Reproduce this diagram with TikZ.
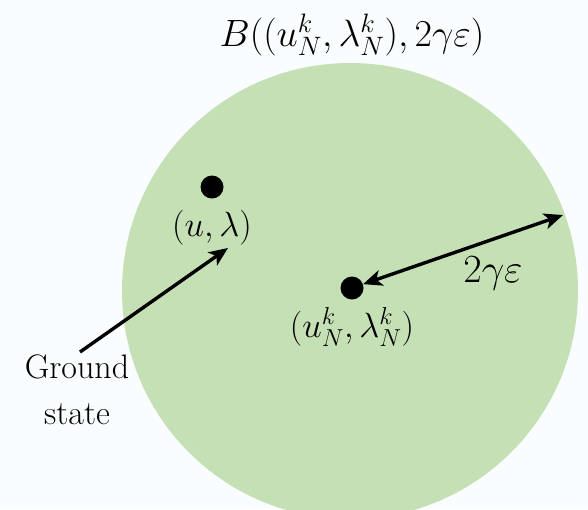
\RequirePackage{fix-cm}
\documentclass[tikz,border=0pt]{standalone}
\usetikzlibrary{arrows.meta}
\definecolor{ballgreen}{RGB}{197,224,180}
\definecolor{bg}{RGB}{250,253,255}
\tikzset{
  dot/.style={circle,fill=black,inner sep=0pt,minimum size=23pt},
  lbl/.style={inner sep=0pt,font=\fontsize{35}{46}\selectfont},
  tip/.tip={Stealth[length=19pt,width=16pt,inset=5pt]},
  arr/.style={line width=3.4pt,-tip},
}
\begin{document}
\begin{tikzpicture}[x=1pt,y=-1pt]
\fill[bg] (0,0) rectangle (588,509);
\useasboundingbox (0,0) rectangle (588,509);
\begin{scope}
\clip (0,0) rectangle (588,509);
\fill[ballgreen] (350,291) circle (228);
\end{scope}
\node[lbl,font=\fontsize{38}{46}\selectfont] (title) at (352,35) {$B((u_N^k,\lambda_N^k),2\gamma\varepsilon)$};
\node[dot] (p) at (212,187) {};
\node[lbl] (pl) at (212,228) {$(u,\lambda)$};
\node[dot] (c) at (352,288) {};
\node[lbl] (cl) at (352,327) {$(u_N^k,\lambda_N^k)$};
\coordinate (e) at (563,215);
\node[inner sep=0pt,font=\fontsize{40}{46}\selectfont] (r) at (493,273) {$2\gamma\varepsilon$};
\draw[line width=3.4pt,tip-tip] (c) -- (e);
\node[lbl,align=center,font=\fontsize{34}{46}\selectfont] (g) at (77,390) {Ground\\state};
\coordinate (gs) at (80,352);
\coordinate (gt) at (228,248);
\draw[arr] (gs) -- (gt);
\end{tikzpicture}
\end{document}
